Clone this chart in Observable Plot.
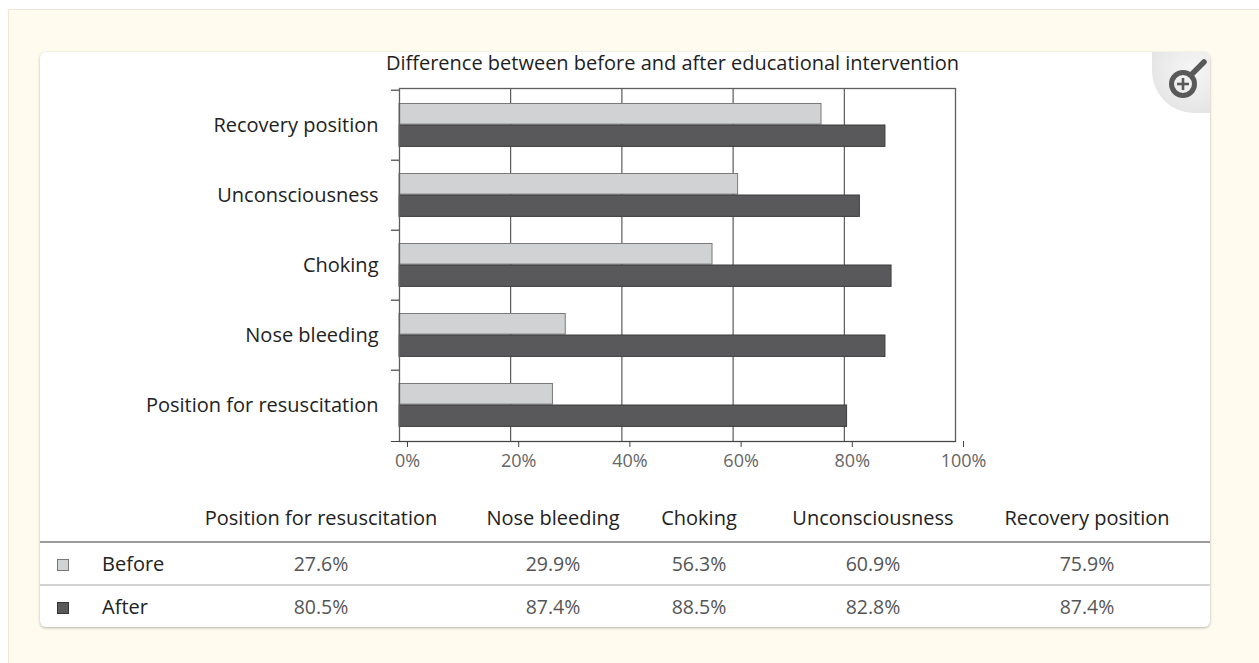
<!DOCTYPE html>
<html>
<head>
<meta charset="utf-8">
<script src="https://cdn.jsdelivr.net/npm/d3@7"></script>
<script src="https://cdn.jsdelivr.net/npm/@observablehq/plot@0.6"></script>
<style>
  html, body { margin: 0; padding: 0; background: #ffffff; }
  body { width: 1259px; height: 663px; overflow: hidden; position: relative; font-family: "Open Sans", sans-serif; }
  #panel { position: absolute; left: 8px; top: 9px; width: 1260px; height: 670px; background: #fffbee;
    border-top: 1px solid #f4e6d4; border-left: 1px solid #f4e6d4; }
  #card { position: absolute; left: 40px; top: 52px; width: 1170px; height: 575px; background: #fff;
    border-radius: 6px; box-shadow: 0 1px 3px rgba(0,0,0,0.28); }
  #chart { height: 442px; margin-top: -8px; margin-bottom: 0; }
  #chart svg { display: block; }
  #zoomicon { position: absolute; right: 0; top: 0; width: 58px; height: 61px;
    border-bottom-left-radius: 42px; border-top-right-radius: 6px;
    background: radial-gradient(circle at 70% 30%, #f6f6f6 0%, #e6e6e6 70%, #dcdcdc 100%); }
  #tablewrap { margin-top: 8px; }
  table { border-collapse: collapse; table-layout: fixed; width: 1170px; }
  tr.hd { height: 48px; }
  tr.r1 { height: 43px; }
  tr.r2 { height: 42px; }
  th { font-weight: normal; font-size: 20px; line-height: 24px; color: #222; text-align: center; vertical-align: middle;
    padding: 0; border-bottom: 2px solid #9c9c9c; white-space: nowrap; }
  td { font-size: 19.5px; line-height: 24px; color: #555; text-align: center; vertical-align: middle; padding: 0; white-space: nowrap; }
  tr.r1 td { border-bottom: 2px solid #d2d2d2; }
  td.lab { text-align: left; padding-left: 16px; color: #222; font-size: 20px; }
  .sw { display: inline-block; width: 10px; height: 10px; vertical-align: middle; }
</style>
</head>
<body>
<div id="panel"></div>
<div id="card">
  <div id="chart"></div>
  <div id="zoomicon">
    <svg width="58" height="61" viewBox="0 0 58 61">
      <circle cx="31" cy="32" r="11.5" fill="none" stroke="#595959" stroke-width="5"/>
      <line x1="25" y1="32" x2="37" y2="32" stroke="#595959" stroke-width="2.6"/>
      <line x1="31" y1="26" x2="31" y2="38" stroke="#595959" stroke-width="2.6"/>
      <line x1="41" y1="21" x2="52" y2="10" stroke="#595959" stroke-width="5.5" stroke-linecap="round"/>
    </svg>
  </div>
  <div id="tablewrap"></div>
</div>
<script>
// ---- data ----
const title = "Difference between before and after educational intervention";
const categories = ["Position for resuscitation", "Nose bleeding", "Choking", "Unconsciousness", "Recovery position"];
const beforeValues = [27.6, 29.9, 56.3, 60.9, 75.9];
const afterValues = [80.5, 87.4, 88.5, 82.8, 87.4];
const seriesNames = ["Before", "After"];
const xTicks = [0, 20, 40, 60, 80, 100];

const rows = categories.map((c, i) => ({category: c, before: beforeValues[i], after: afterValues[i]}));
const beforeColor = "#d1d2d4", afterColor = "#59595b";

const W = 1170, H = 442;
const mTop = 44, mBottom = 45, mLeft = 359, mRight = 255;
const band = (H - mTop - mBottom) / categories.length;

const chart = Plot.plot({
  width: W,
  height: H,
  marginTop: mTop,
  marginBottom: mBottom,
  marginLeft: mLeft,
  marginRight: mRight,
  style: {fontFamily: "Open Sans, sans-serif", background: "transparent", overflow: "visible"},
  x: {domain: [0, 100], ticks: xTicks},
  y: {type: "band", domain: categories.slice().reverse(), padding: 0, label: null},
  marks: [
    Plot.ruleX(xTicks.slice(1, -1), {stroke: "#3a3a3a", strokeWidth: 1}),
    Plot.barX(rows, {x: "before", y: "category", fill: beforeColor, stroke: "#7a7a7a", strokeWidth: 1,
      insetTop: 13.5, insetBottom: band - 34.7}),
    Plot.barX(rows, {x: "after", y: "category", fill: afterColor, stroke: "#3c3c3c", strokeWidth: 1,
      insetTop: 35, insetBottom: band - 57}),
    Plot.frame({stroke: "#5e5e5e", strokeWidth: 1.3}),
    Plot.ruleY(categories, {y: d => d, x1: 0, x2: 0, insetLeft: -8, dy: -band / 2, stroke: "#444", strokeWidth: 1.2}),
    Plot.frame({anchor: "bottom", insetLeft: -8, stroke: "#444", strokeWidth: 1.2}),
    Plot.axisX({ticks: xTicks, tickFormat: d => d + "%", tickSize: 6, tickPadding: 7, dx: 8,
      fontSize: 18, fill: "#666", stroke: "#444", label: null}),
    Plot.axisY({tickSize: 0, tickPadding: 21, fontSize: 20, fill: "#222", label: null}),
    Plot.text([title], {frameAnchor: "top", dy: -25, dx: -5, fontSize: 20, fill: "#1e1e1e", lineAnchor: "middle"})
  ]
});
document.getElementById("chart").appendChild(chart);

// ---- table ----
const colWidths = [46, 104, 262, 202, 90, 258, 170, 38];
const table = document.createElement("table");
const cg = document.createElement("colgroup");
colWidths.forEach(w => { const c = document.createElement("col"); c.style.width = w + "px"; cg.appendChild(c); });
table.appendChild(cg);
const thead = document.createElement("tr");
thead.className = "hd";
thead.innerHTML = "<th></th><th></th>" + categories.map(c => `<th>${c}</th>`).join("") + "<th></th>";
table.appendChild(thead);
const swatch = (fill, stroke) => `<span class="sw" style="background:${fill};border:1px solid ${stroke}"></span>`;
[[seriesNames[0], beforeValues, beforeColor, "#777", "r1"], [seriesNames[1], afterValues, afterColor, "#333", "r2"]]
  .forEach(([name, vals, fill, stroke, cls]) => {
    const tr = document.createElement("tr");
    tr.className = cls;
    tr.innerHTML = `<td>${swatch(fill, stroke)}</td><td class="lab">${name}</td>` +
      vals.map(v => `<td>${v.toFixed(1)}%</td>`).join("") + "<td></td>";
    table.appendChild(tr);
  });
document.getElementById("tablewrap").appendChild(table);
</script>
</body>
</html>
